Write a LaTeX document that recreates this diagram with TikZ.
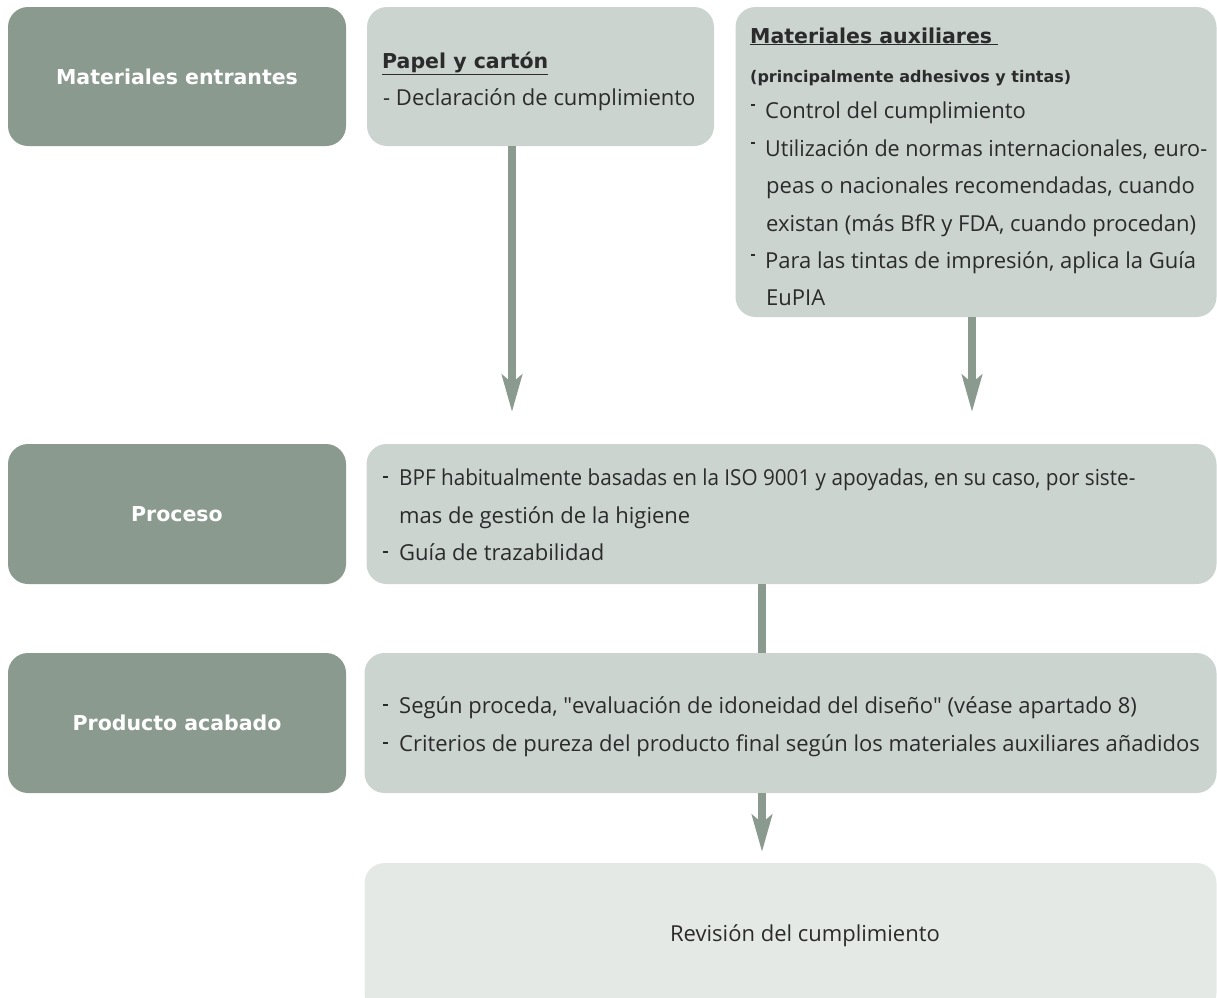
\documentclass[tikz,border=0pt]{standalone}
\usepackage{fontspec}
\usepackage{graphicx}
\setmainfont{Open Sans}
\newfontfamily\headfont{DejaVu Sans}
\usetikzlibrary{arrows.meta}
\definecolor{darkg}{HTML}{8B9A8F}
\definecolor{lightg}{HTML}{CBD4CF}
\definecolor{paleg}{HTML}{E5E9E6}
\definecolor{txt}{HTML}{2B2B2B}
\newcommand{\rdash}{\raisebox{0.55em}{\rule{4pt}{1.6pt}}}
\newcommand{\mdash}{\raisebox{0.32em}{\rule{5pt}{2.2pt}}}
\begin{document}
\begin{tikzpicture}[x=1pt,y=-1pt,
  darkbox/.style={rectangle,rounded corners=20pt,fill=darkg,draw=none,inner sep=0pt,
    text=white,font=\headfont\bfseries\fontsize{20.5}{25}\selectfont},
  lightbox/.style={rectangle,rounded corners=20pt,fill=lightg,draw=none,inner sep=0pt},
  palebox/.style={rectangle,rounded corners=20pt,fill=paleg,draw=none,inner sep=0pt},
  body/.style={anchor=base west,inner sep=0pt,text=txt,font=\fontsize{22}{26}\selectfont},
  head/.style={anchor=base west,inner sep=0pt,text=txt,font=\headfont\bfseries\fontsize{20.5}{25}\selectfont},
  sub/.style={anchor=base west,inner sep=0pt,text=txt,font=\headfont\bfseries\fontsize{16}{19}\selectfont},
  arr/.style={draw=darkg,line width=8pt,-{Stealth[length=37pt,width=20pt,inset=8pt]}},
  link/.style={draw=darkg,line width=8pt}]
\useasboundingbox (0,0) rectangle (1217,997);
% left column
\node[darkbox,minimum width=338pt,minimum height=139pt] (me) at (177,76.5) {Materiales entrantes};
\node[darkbox,minimum width=338pt,minimum height=140pt] (pr) at (177,514) {Proceso};
\node[darkbox,minimum width=338pt,minimum height=140pt] (pa) at (177,723) {Producto acabado};
% papel
\node[lightbox,minimum width=347pt,minimum height=139pt] (pap) at (540.5,76.5) {};
\node[head] (papt) at (382,68) {\underline{Papel y cartón}};
\node[body] (pap1) at (383,105) {- Declaración de cumplimiento};
% auxiliares
\node[lightbox,minimum width=481pt,minimum height=310pt] (aux) at (976,162) {};
\node[head] (auxt) at (750,43) {\underline{Materiales auxiliares\hspace{6pt}}};
\node[sub] (auxs) at (750,82) {(principalmente adhesivos y tintas)};
\node[body] (a1) at (751,118) {\rdash\hspace{10pt}Control del cumplimiento};
\node[body] (a2) at (751,156) {\rdash\hspace{10pt}\scalebox{0.98}[1]{Utilización de normas internacionales, euro-}};
\node[body] (a3) at (766,193) {peas o nacionales recomendadas, cuando};
\node[body] (a4) at (766,231) {existan (más BfR y FDA, cuando procedan)};
\node[body] (a5) at (751,268) {\rdash\hspace{10pt}Para las tintas de impresión, aplica la Guía};
\node[body] (a6) at (766,305) {EuPIA};
% proceso
\node[lightbox,minimum width=850pt,minimum height=140pt] (prc) at (791.5,514) {};
\node[body] (p1) at (383,485) {\mdash\hspace{11pt}\scalebox{0.94}[1]{BPF habitualmente basadas en la ISO 9001 y apoyadas, en su caso, por siste-}};
\node[body] (p2) at (399,523) {mas de gestión de la higiene};
\node[body] (p3) at (383,560) {\mdash\hspace{11pt}Guía de trazabilidad};
% producto
\node[lightbox,minimum width=852pt,minimum height=140pt] (pac) at (790.5,723) {};
\node[body] (q1) at (383,713) {\mdash\hspace{11pt}Según proceda, \textquotedbl evaluación de idoneidad del diseño\textquotedbl\ (véase apartado 8)};
\node[body] (q2) at (383,751) {\mdash\hspace{11pt}Criterios de pureza del producto final según los materiales auxiliares añadidos};
% revision
\node[palebox,minimum width=852pt,minimum height=150pt] (rev) at (790.5,938) {};
\node[anchor=base,inner sep=0pt,text=txt,font=\fontsize{22}{26}\selectfont] (revt) at (805,941) {Revisión del cumplimiento};
% connectors
\coordinate (t1) at (512,412);
\coordinate (t2) at (972,412);
\coordinate (t3) at (762,852);
\coordinate (c1) at (762,0);
\draw[arr] (pap.south -| t1) -- (t1);
\draw[arr] (aux.south -| t2) -- (t2);
\draw[link] (prc.south -| c1) -- (pac.north -| c1);
\draw[arr] (pac.south -| t3) -- (t3);
\end{tikzpicture}
\end{document}
